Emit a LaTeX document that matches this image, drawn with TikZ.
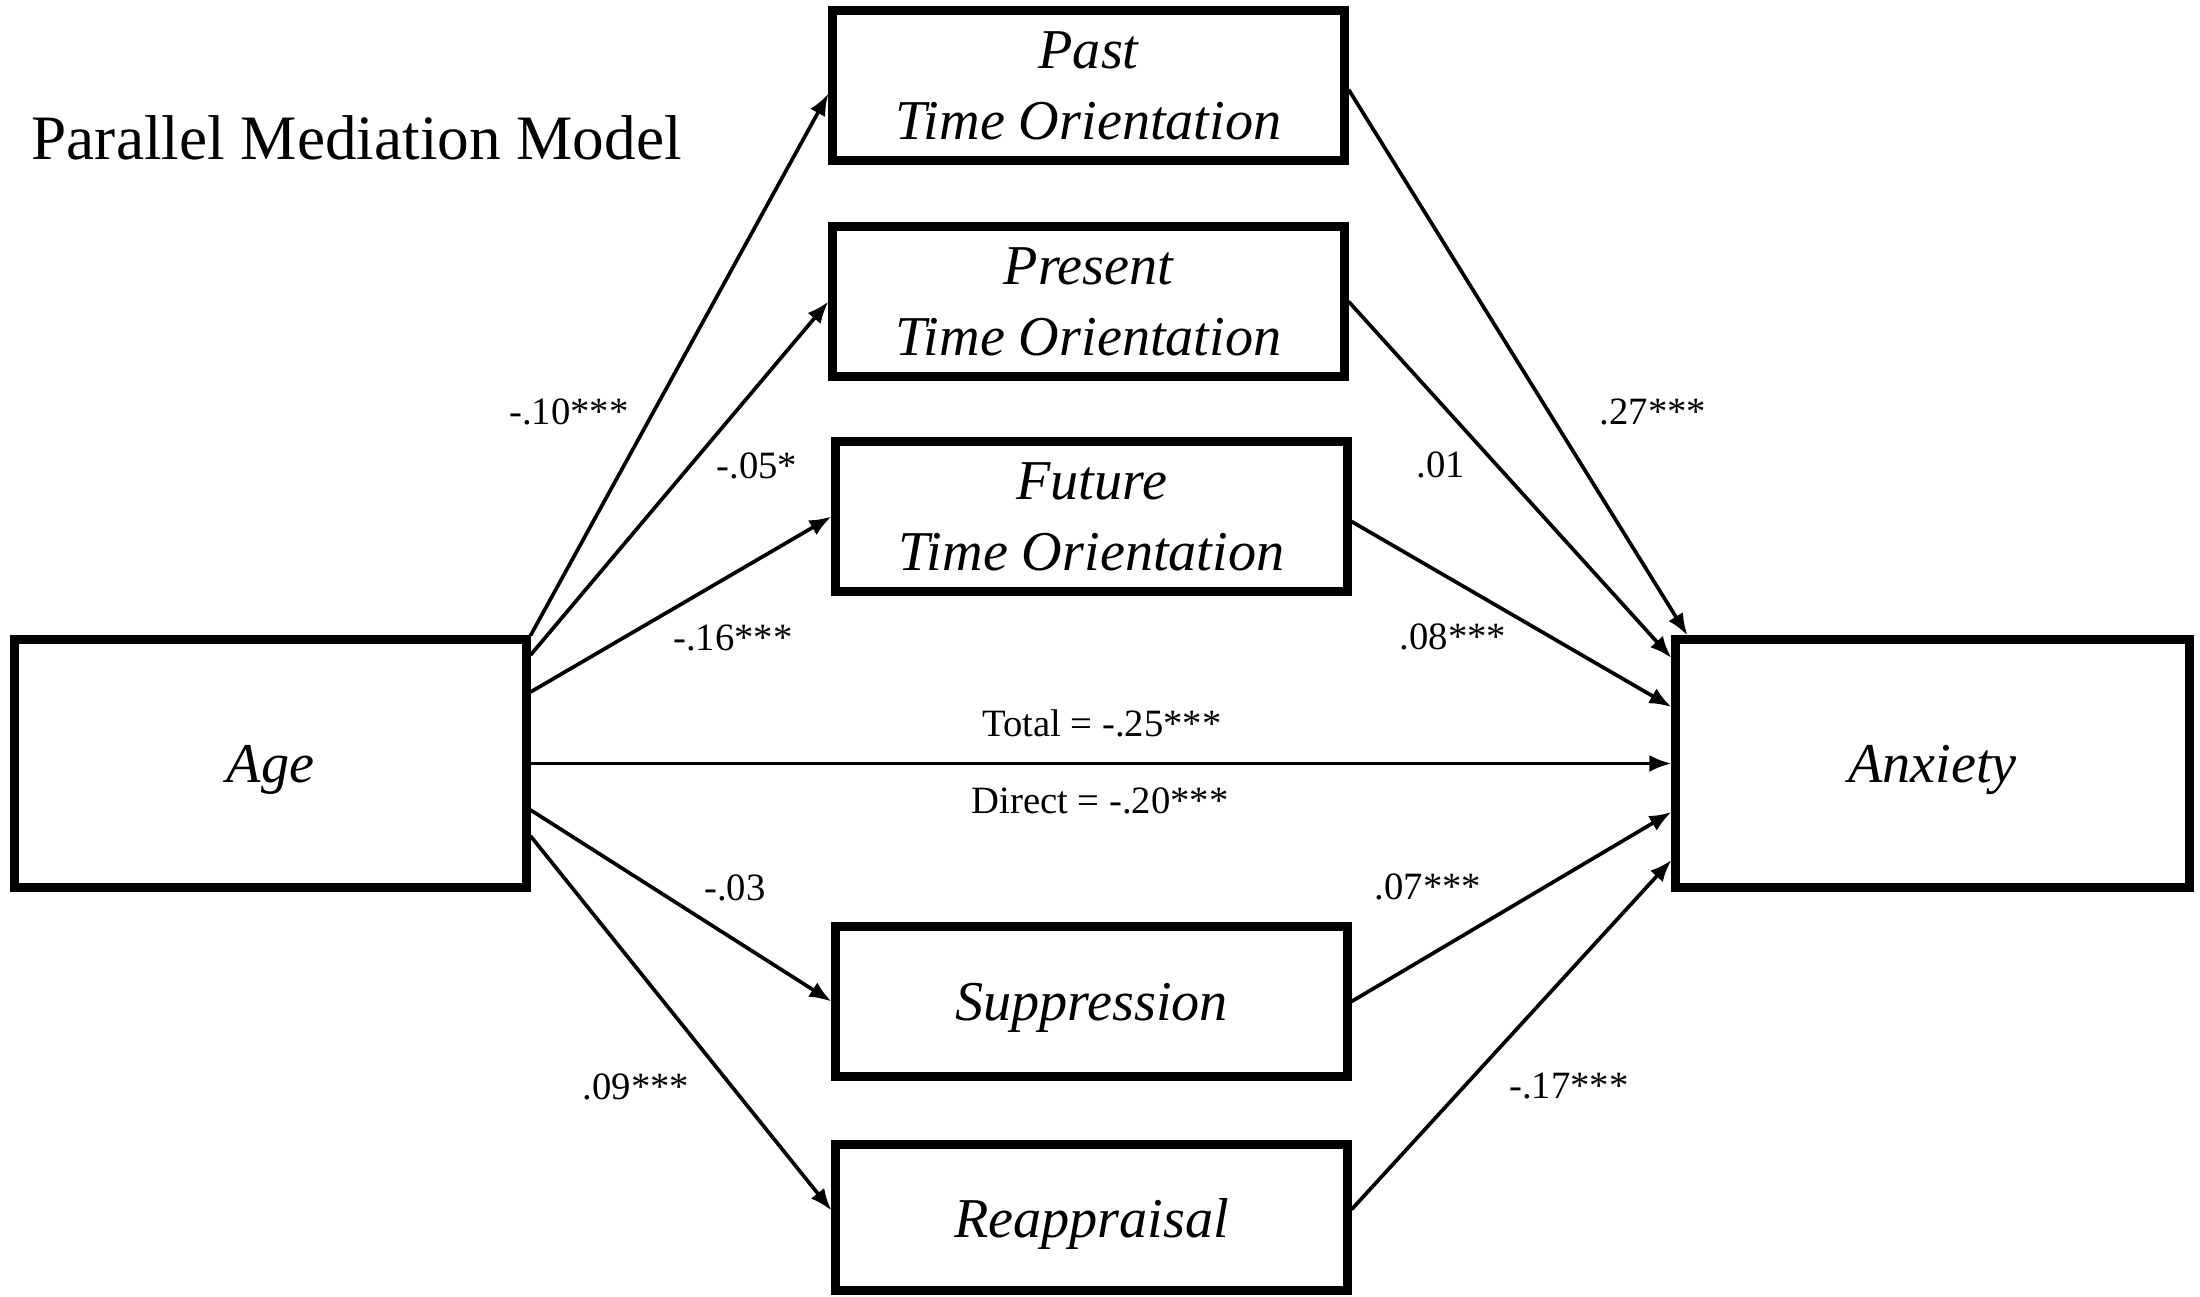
\documentclass[tikz,border=0pt]{standalone}
\usepackage{fontspec}
\setmainfont{Liberation Serif}
\usetikzlibrary{arrows.meta,calc}
\begin{document}
\begin{tikzpicture}[x=1cm,y=1cm,
  box/.style={draw, line width=2.3pt, rectangle, inner sep=0pt, align=center,
    minimum width=5.12cm, minimum height=1.50cm, text depth=0pt,
    font=\fontsize{16}{20}\selectfont\itshape},
  arr/.style={line width=1.05pt, -{Latex[length=0.22cm,width=0.17cm]}},
  lbl/.style={font=\fontsize{11}{13}\selectfont, inner sep=0pt}]
\useasboundingbox (0,0) rectangle (22,-12.96);

\node[anchor=base west, inner sep=0pt, font=\fontsize{18}{22}\selectfont] (title) at (0.31,-1.59) {Parallel Mediation Model};

\node[box] (past) at (10.885,-0.855) {Past\\Time Orientation};
\node[box] (present) at (10.885,-3.015) {Present\\Time Orientation};
\node[box] (future) at (10.915,-5.165) {Future\\Time Orientation};
\node[box] (supp) at (10.915,-10.015) {Suppression};
\node[box, minimum height=1.46cm] (reap) at (10.915,-12.175) {Reappraisal};
\node[box, minimum height=2.48cm] (age) at (2.705,-7.635) {Age};
\node[box, minimum width=5.14cm, minimum height=2.48cm] (anx) at (19.325,-7.635) {Anxiety};

\draw[arr] (age.north east) -- ([yshift=-0.08cm]past.west);
\draw[arr] ([yshift=1.085cm]age.east) -- (present.west);
\draw[arr] ([yshift=0.715cm]age.east) -- (future.west);
\draw[arr] (age.east) -- (anx.west);
\draw[arr] ([yshift=-0.465cm]age.east) -- (supp.west);
\draw[arr] ([yshift=-0.725cm]age.east) -- ([yshift=0.07cm]reap.west);

\draw[arr] ([yshift=-0.04cm]past.east) -- ([xshift=0.16cm]anx.north west);
\draw[arr] (present.east) -- ([yshift=1.055cm]anx.west);
\draw[arr] ([yshift=-0.05cm]future.east) -- ([yshift=0.565cm]anx.west);
\draw[arr] (supp.east) -- ([yshift=-0.485cm]anx.west);
\draw[arr] ([yshift=0.08cm]reap.east) -- ([yshift=-0.965cm]anx.west);

\node[lbl] (l1) at (5.69,-4.12) {-.10***};
\node[lbl] (l2) at (7.57,-4.66) {-.05*};
\node[lbl] (l3) at (7.33,-6.38) {-.16***};
\node[lbl] (l4) at (16.53,-4.12) {.27***};
\node[lbl] (l5) at (14.41,-4.65) {.01};
\node[lbl] (l6) at (14.53,-6.37) {.08***};
\node[lbl] (l7) at (11.02,-7.23) {Total = -.25***};
\node[lbl] (l8) at (11.00,-8.01) {Direct = -.20***};
\node[lbl] (l9) at (7.35,-8.88) {-.03};
\node[lbl] (l10) at (14.28,-8.87) {.07***};
\node[lbl] (l11) at (6.36,-10.87) {.09***};
\node[lbl] (l12) at (15.69,-10.86) {-.17***};
\end{tikzpicture}
\end{document}
